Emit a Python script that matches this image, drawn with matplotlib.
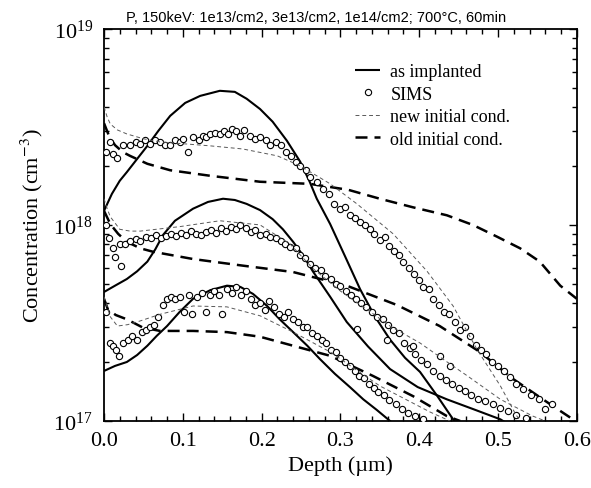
import numpy as np
import matplotlib
matplotlib.use("Agg")
import matplotlib.pyplot as plt

# depth in um, concentration in cm^-3
# as implanted profiles (1e14, 3e13, 1e13 /cm2)
impl_hi_x = [0.000, 0.010, 0.020, 0.029, 0.042, 0.055, 0.069, 0.084, 0.103, 0.122, 0.147, 0.166,
             0.181, 0.198, 0.214, 0.232, 0.249, 0.261, 0.270, 0.287, 0.306, 0.325, 0.344, 0.363,
             0.382, 0.401, 0.423, 0.443, 0.450]
impl_hi_y = [1.18e18, 1.44e18, 1.68e18, 1.86e18, 2.17e18, 2.53e18, 3.02e18, 3.6e18, 4.19e18, 4.55e18,
             4.83e18, 4.77e18, 4.4e18, 3.9e18, 3.36e18, 2.69e18, 2.1e18, 1.66e18, 1.36e18, 1.01e18,
             6.9e17, 4.7e17, 3.4e17, 2.6e17, 2.1e17, 1.78e17, 1.34e17, 1.02e17, 9.5e16]

impl_mid_x = [0.000, 0.014, 0.029, 0.042, 0.055, 0.065, 0.075, 0.090, 0.113, 0.132, 0.151, 0.166,
              0.181, 0.198, 0.214, 0.227, 0.240, 0.253, 0.265, 0.287, 0.308, 0.335, 0.363, 0.398,
              0.435, 0.471, 0.503, 0.510]
impl_mid_y = [4.55e17, 4.9e17, 5.3e17, 5.8e17, 6.5e17, 7.5e17, 8.9e17, 1.05e18, 1.21e18, 1.31e18,
              1.36e18, 1.34e18, 1.28e18, 1.19e18, 1.07e18, 9.5e17, 8.2e17, 6.95e17, 5.8e17, 4.3e17,
              3.2e17, 2.4e17, 1.84e17, 1.49e17, 1.29e17, 1.14e17, 1.02e17, 9.8e16]

impl_lo_x = [0.000, 0.014, 0.029, 0.042, 0.055, 0.067, 0.080, 0.096, 0.113, 0.135, 0.156, 0.173,
             0.189, 0.207, 0.223, 0.240, 0.258, 0.274, 0.293, 0.312, 0.329, 0.346, 0.363, 0.370]
impl_lo_y = [1.8e17, 1.91e17, 2.0e17, 2.17e17, 2.42e17, 2.72e17, 3.05e17, 3.6e17, 4.2e17, 4.65e17,
             4.9e17, 4.83e17, 4.45e17, 3.86e17, 3.3e17, 2.84e17, 2.42e17, 2.07e17, 1.74e17, 1.49e17,
             1.29e17, 1.14e17, 1.0e17, 9.5e16]

# old initial condition simulations
old_hi_x = [0.000, 0.007, 0.014, 0.024, 0.033, 0.055, 0.084, 0.135, 0.198, 0.261, 0.310, 0.350,
            0.392, 0.435, 0.468, 0.499, 0.528, 0.553, 0.579, 0.600]
old_hi_y = [3.3e18, 2.8e18, 2.55e18, 2.35e18, 2.25e18, 2.05e18, 1.9e18, 1.78e18, 1.66e18, 1.62e18,
            1.51e18, 1.36e18, 1.23e18, 1.12e18, 1.0e18, 8.7e17, 7.6e17, 6.5e17, 4.9e17, 4.2e17]

old_mid_x = [0.000, 0.008, 0.018, 0.029, 0.046, 0.062, 0.113, 0.176, 0.240, 0.308, 0.372, 0.426,
             0.477, 0.519, 0.562, 0.595, 0.600]
old_mid_y = [1.18e18, 1.01e18, 9.0e17, 8.2e17, 7.6e17, 7.3e17, 6.7e17, 6.2e17, 5.75e17, 4.9e17,
             3.9e17, 3.05e17, 2.25e17, 1.64e17, 1.25e17, 1.02e17, 9.9e16]

old_lo_x = [0.000, 0.005, 0.015, 0.029, 0.049, 0.071, 0.113, 0.156, 0.198, 0.240, 0.287, 0.341,
            0.392, 0.435, 0.452]
old_lo_y = [4.2e17, 3.7e17, 3.47e17, 3.3e17, 3.0e17, 2.88e17, 2.88e17, 2.84e17, 2.69e17, 2.42e17,
            2.15e17, 1.7e17, 1.34e17, 1.06e17, 1.0e17]

# new initial condition simulations
new_hi_x = [0.000, 0.004, 0.008, 0.017, 0.029, 0.050, 0.071, 0.135, 0.176, 0.220, 0.249, 0.287,
            0.321, 0.367, 0.410, 0.443, 0.473, 0.503, 0.522, 0.528]
new_hi_y = [4.0e18, 3.55e18, 3.27e18, 3.05e18, 2.91e18, 2.75e18, 2.65e18, 2.53e18, 2.44e18, 2.25e18,
            2.0e18, 1.62e18, 1.28e18, 9.0e17, 5.8e17, 3.86e17, 2.33e17, 1.51e17, 1.09e17, 1.0e17]

new_mid_x = [0.000, 0.004, 0.008, 0.020, 0.033, 0.046, 0.096, 0.147, 0.198, 0.236, 0.265, 0.300,
             0.334, 0.363, 0.401, 0.430, 0.461, 0.503, 0.544, 0.560]
new_mid_y = [1.36e18, 1.21e18, 1.1e18, 9.5e17, 9.3e17, 9.3e17, 9.8e17, 1.05e18, 1.0e18, 8.0e17,
             6.0e17, 4.6e17, 3.7e17, 3.05e17, 2.5e17, 2.07e17, 1.7e17, 1.29e17, 1.06e17, 1.0e17]

new_lo_x = [0.000, 0.008, 0.017, 0.030, 0.042, 0.071, 0.113, 0.156, 0.198, 0.240, 0.287, 0.350,
            0.414, 0.439]
new_lo_y = [4.3e17, 3.4e17, 3.05e17, 3.1e17, 3.2e17, 3.5e17, 3.86e17, 3.82e17, 3.44e17, 2.84e17,
            2.25e17, 1.51e17, 1.11e17, 1.0e17]

# SIMS measurements
sims_hi_x = [0.002, 0.008, 0.012, 0.017, 0.024, 0.033, 0.040, 0.046, 0.052, 0.058, 0.065, 0.071,
             0.078, 0.084, 0.090, 0.096, 0.100, 0.107, 0.113, 0.120, 0.125, 0.130, 0.135, 0.141,
             0.147, 0.152, 0.157, 0.163, 0.168, 0.173, 0.178, 0.185, 0.192, 0.198, 0.205, 0.211,
             0.218, 0.224, 0.231, 0.237, 0.243, 0.249, 0.256, 0.262, 0.270, 0.278, 0.285, 0.292,
             0.300, 0.306, 0.312, 0.318, 0.325, 0.331, 0.338, 0.343, 0.350, 0.356, 0.362, 0.368,
             0.374, 0.380, 0.387, 0.393, 0.400, 0.405, 0.412, 0.418, 0.425, 0.432, 0.438, 0.445,
             0.452, 0.458, 0.465, 0.472, 0.478, 0.485, 0.492, 0.500, 0.507, 0.515, 0.523, 0.532,
             0.542, 0.552, 0.560, 0.568]
sims_hi_y = [2.35e18, 2.65e18, 2.3e18, 2.2e18, 2.55e18, 2.55e18, 2.65e18, 2.6e18, 2.7e18, 2.6e18,
             2.7e18, 2.65e18, 2.55e18, 2.55e18, 2.7e18, 2.65e18, 2.75e18, 2.35e18, 2.8e18, 2.7e18,
             2.85e18, 2.8e18, 2.9e18, 2.95e18, 2.9e18, 3.0e18, 2.9e18, 3.1e18, 3.0e18, 2.85e18,
             3.05e18, 2.85e18, 2.75e18, 2.8e18, 2.7e18, 2.55e18, 2.65e18, 2.55e18, 2.35e18, 2.25e18,
             2.1e18, 2.0e18, 1.9e18, 1.75e18, 1.65e18, 1.53e18, 1.43e18, 1.28e18, 1.21e18, 1.24e18,
             1.12e18, 1.09e18, 1.04e18, 1.0e18, 9.5e17, 9.0e17, 8.4e17, 8.7e17, 7.8e17, 7.4e17,
             7.0e17, 6.5e17, 6.0e17, 5.6e17, 5.25e17, 4.8e17, 4.7e17, 4.2e17, 3.9e17, 3.6e17,
             3.5e17, 3.2e17, 2.9e17, 3.0e17, 2.7e17, 2.45e17, 2.3e17, 2.2e17, 2.0e17, 1.9e17,
             1.8e17, 1.68e17, 1.55e17, 1.46e17, 1.36e17, 1.29e17, 1.15e17, 1.22e17]

sims_mid_x = [0.002, 0.006, 0.011, 0.014, 0.022, 0.020, 0.027, 0.033, 0.040, 0.046, 0.053, 0.060,
              0.066, 0.072, 0.079, 0.085, 0.091, 0.098, 0.104, 0.110, 0.117, 0.123, 0.130, 0.136,
              0.142, 0.148, 0.155, 0.161, 0.167, 0.173, 0.180, 0.186, 0.192, 0.198, 0.205, 0.211,
              0.218, 0.224, 0.230, 0.236, 0.243, 0.249, 0.255, 0.262, 0.268, 0.275, 0.281, 0.288,
              0.294, 0.300, 0.307, 0.313, 0.320, 0.326, 0.333, 0.340, 0.347, 0.354, 0.360, 0.367,
              0.374, 0.381, 0.388, 0.395, 0.402, 0.410, 0.418, 0.426, 0.434, 0.442, 0.450, 0.458,
              0.466, 0.475, 0.484, 0.493, 0.503, 0.513, 0.523, 0.535, 0.321, 0.359, 0.392, 0.426,
              0.439]
sims_mid_y = [1.0e18, 8.6e17, 7.6e17, 6.9e17, 6.2e17, 8.0e17, 8.0e17, 8.3e17, 8.5e17, 8.3e17,
              8.7e17, 8.6e17, 8.9e17, 8.6e17, 8.8e17, 9.0e17, 8.8e17, 9.1e17, 8.9e17, 9.3e17,
              9.0e17, 8.9e17, 9.2e17, 9.4e17, 9.1e17, 9.6e17, 9.3e17, 9.8e17, 9.5e17, 1.0e18,
              9.6e17, 9.2e17, 9.4e17, 8.9e17, 9.0e17, 8.7e17, 8.6e17, 8.3e17, 8.0e17, 7.7e17,
              7.6e17, 7.0e17, 6.8e17, 6.3e17, 6.0e17, 5.9e17, 5.5e17, 5.3e17, 5.0e17, 4.9e17,
              4.6e17, 4.4e17, 4.2e17, 4.0e17, 3.8e17, 3.6e17, 3.4e17, 3.3e17, 3.1e17, 2.9e17,
              2.8e17, 2.5e17, 2.35e17, 2.2e17, 2.05e17, 1.95e17, 1.8e17, 1.7e17, 1.62e17, 1.55e17,
              1.48e17, 1.42e17, 1.36e17, 1.3e17, 1.26e17, 1.22e17, 1.17e17, 1.12e17, 1.07e17, 1.03e17,
              2.95e17, 2.6e17, 2.4e17, 2.15e17, 1.9e17]

sims_lo_x = [0.002, 0.007, 0.011, 0.015, 0.019, 0.024, 0.030, 0.036, 0.042, 0.048, 0.053, 0.058,
             0.064, 0.069, 0.075, 0.080, 0.085, 0.090, 0.096, 0.102, 0.108, 0.112, 0.118, 0.124,
             0.130, 0.135, 0.140, 0.146, 0.150, 0.156, 0.162, 0.168, 0.174, 0.180, 0.186, 0.192,
             0.198, 0.204, 0.210, 0.216, 0.222, 0.228, 0.234, 0.240, 0.246, 0.252, 0.258, 0.264,
             0.270, 0.276, 0.282, 0.288, 0.294, 0.300, 0.306, 0.312, 0.318, 0.324, 0.330, 0.336,
             0.342, 0.348, 0.355, 0.362, 0.370, 0.378, 0.386, 0.395, 0.405]
sims_lo_y = [3.6e17, 2.5e17, 2.4e17, 2.3e17, 2.15e17, 2.5e17, 2.6e17, 2.7e17, 2.6e17, 2.85e17,
             2.9e17, 3.0e17, 3.1e17, 3.4e17, 3.9e17, 4.2e17, 4.3e17, 4.2e17, 4.3e17, 3.6e17,
             4.4e17, 3.5e17, 4.3e17, 4.5e17, 3.6e17, 4.4e17, 4.6e17, 4.4e17, 3.5e17, 4.7e17,
             4.5e17, 4.8e17, 4.4e17, 4.6e17, 4.2e17, 3.9e17, 4.0e17, 3.7e17, 4.1e17, 3.8e17,
             3.5e17, 3.4e17, 3.6e17, 3.3e17, 3.2e17, 3.0e17, 3.0e17, 2.8e17, 2.7e17, 2.6e17,
             2.5e17, 2.3e17, 2.25e17, 2.1e17, 2.0e17, 1.9e17, 1.8e17, 1.7e17, 1.65e17, 1.55e17,
             1.48e17, 1.4e17, 1.35e17, 1.28e17, 1.22e17, 1.15e17, 1.1e17, 1.06e17, 1.02e17]

plt.rcParams['font.family'] = ['Liberation Serif', 'DejaVu Serif']
plt.rcParams['mathtext.fontset'] = 'stix'

fig = plt.figure(figsize=(5.91, 4.89), dpi=100)
ax = fig.add_axes([0.176, 0.137, 0.800, 0.802])

solid = dict(color='black', lw=1.5, solid_capstyle='butt')
old = dict(color='black', lw=1.8, dashes=(4.8, 2.8))
new = dict(color='0.35', lw=0.7, dashes=(4, 3))
dots = dict(ls='none', marker='o', ms=4.5, mfc='white', mec='black', mew=0.8)

ax.plot(impl_hi_x, impl_hi_y, label='as implanted', **solid)
ax.plot(impl_mid_x, impl_mid_y, **solid)
ax.plot(impl_lo_x, impl_lo_y, **solid)

ax.plot(sims_hi_x, sims_hi_y, label='SIMS', zorder=3, **dots)
ax.plot(sims_mid_x, sims_mid_y, zorder=3, **dots)
ax.plot(sims_lo_x, sims_lo_y, zorder=3, **dots)

ax.plot(new_hi_x, new_hi_y, label='new initial cond.', zorder=4, **new)
ax.plot(new_mid_x, new_mid_y, zorder=4, **new)
ax.plot(new_lo_x, new_lo_y, zorder=4, **new)

ax.plot(old_hi_x, old_hi_y, label='old initial cond.', **old)
ax.plot(old_mid_x, old_mid_y, **old)
ax.plot(old_lo_x, old_lo_y, **old)

ax.set_yscale('log')
ax.set_xlim(0, 0.6)
ax.set_ylim(1e17, 1e19)
ax.set_xticks(np.arange(0, 0.61, 0.1))
ax.set_xticks(np.arange(0, 0.61, 0.02), minor=True)
ax.set_xticklabels(['%.1f' % t for t in np.arange(0, 0.61, 0.1)])
ax.tick_params(which='both', direction='in', top=True, right=True, labelsize=16, width=1.0)
ax.tick_params(which='major', length=6)
ax.tick_params(which='minor', length=3.5)
ax.tick_params(axis='x', pad=7)
ax.tick_params(axis='y', pad=8)
for s in ax.spines.values():
    s.set_linewidth(1.3)

ax.set_xlabel('Depth (\u00b5m)', fontsize=16, labelpad=4)
ax.set_ylabel('Concentration (cm$^{-3}$)', fontsize=16, labelpad=6)

ax.legend(loc='upper left', bbox_to_anchor=(0.531, 0.912), frameon=False, fontsize=13,
          handlelength=1.4, handletextpad=0.55, labelspacing=0.3, borderpad=0, borderaxespad=0,
          numpoints=1)

fig.text(0.535, 0.963, 'P, 150keV: 1e13/cm2, 3e13/cm2, 1e14/cm2; 700\u00b0C, 60min',
         ha='center', va='center', fontsize=10.5, family='Liberation Sans')

fig.savefig('out.png', dpi=100)
